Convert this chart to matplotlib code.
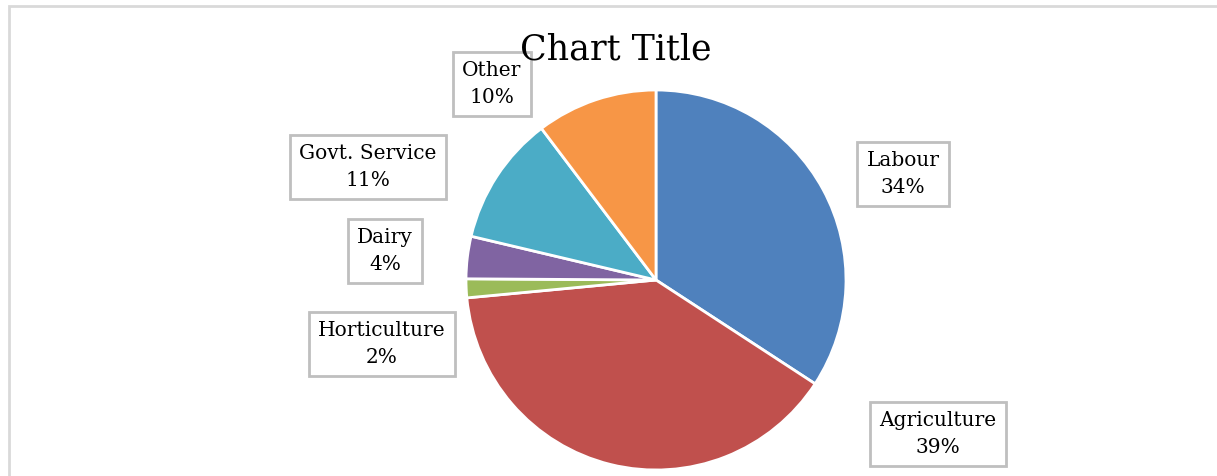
import matplotlib.pyplot as plt
from matplotlib.patches import Rectangle

categories = ['Labour', 'Agriculture', 'Horticulture', 'Dairy', 'Govt. Service', 'Other']
shares = [34.2, 39.3, 1.6, 3.6, 11.0, 10.3]
colors = ['#4F81BD', '#C0504D', '#9BBB59', '#8064A2', '#4BACC6', '#F79646']
# label box centres in pixel coords (from top-left)
label_pos = [(903, 174), (938, 434), (382, 344), (385, 251), (368, 167), (492, 84)]

W, H = 1217, 476
fig = plt.figure(figsize=(W / 100, H / 100), dpi=100)
ax = fig.add_axes([0, 0, 1, 1])
ax.set_xlim(0, W)
ax.set_ylim(0, H)
ax.set_aspect('equal')
ax.axis('off')

# outer chart border
ax.add_patch(Rectangle((9, -10), W + 20, H - 6 + 10, fill=False,
                       edgecolor='#d9d9d9', linewidth=2))

ax.pie(shares, colors=colors, startangle=90, counterclock=False,
       center=(656, H - 280), radius=190,
       wedgeprops=dict(edgecolor='white', linewidth=2))
ax.set_xlim(0, W)
ax.set_ylim(0, H)

total = sum(shares)
for name, val, (px, py) in zip(categories, shares, label_pos):
    ax.text(px, H - py, '%s\n%.0f%%' % (name, val / total * 100),
            ha='center', va='center', fontsize=14.5, family='DejaVu Serif',
            linespacing=1.55,
            bbox=dict(boxstyle='square,pad=0.45', facecolor='white',
                      edgecolor='#bfbfbf', linewidth=2))

ax.text(616, H - 50, 'Chart Title', ha='center', va='center',
        fontsize=25, family='DejaVu Serif')

fig.savefig('out.png', dpi=100)
